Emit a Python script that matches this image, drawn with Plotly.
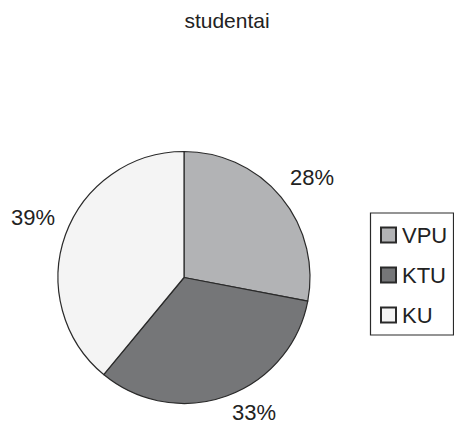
import math
import plotly.graph_objects as go

labels = ["VPU", "KTU", "KU"]
values = [28, 33, 39]
colors = ["#b2b3b5", "#757678", "#f4f4f4"]

W, H = 454, 429
FONT = "Liberation Sans, Arial, sans-serif"
TXT = "#222222"

# pie geometry in pixels (layout only)
CX, CY, R = 184, 277.5, 126


def px(x):
    return x / W


def py(y):
    return 1 - y / H


fig = go.Figure()
fig.add_trace(go.Pie(
    labels=labels, values=values, sort=False, direction="clockwise", rotation=0,
    marker=dict(colors=colors, line=dict(color="#2a2a2a", width=1.2)),
    textinfo="none", showlegend=False, hoverinfo="label+percent",
    domain=dict(x=[px(CX - R), px(CX + R)], y=[py(CY + R), py(CY - R)]),
))

# percentage labels, placed outside each slice at its mid-angle
total = sum(values)
cum = 0
annotations = []
for lab, v in zip(labels, values):
    mid = (cum + v / 2) / total * 2 * math.pi
    cum += v
    s, c = math.sin(mid), math.cos(mid)
    rx = R * 1.07
    ry = R * 1.07 if c > 0 else R * 1.02
    x = CX + rx * s
    y = CY - ry * c
    xanchor = "center" if abs(s) < 0.3 else ("left" if s > 0 else "right")
    yanchor = "middle" if abs(c) < 0.3 else ("bottom" if c > 0 else "top")
    annotations.append(dict(
        x=px(x), y=py(y), xref="paper", yref="paper", showarrow=False,
        text=f"{round(v / total * 100)}%", xanchor=xanchor, yanchor=yanchor,
        font=dict(family=FONT, size=22, color=TXT),
    ))

# legend (drawn manually to match the boxed Excel-style legend)
shapes = [dict(type="rect", xref="paper", yref="paper",
               x0=px(370.5), x1=px(453.5), y0=py(335), y1=py(213),
               line=dict(color="#2a2a2a", width=1.2), fillcolor="white", layer="below")]
row_y = [235, 275, 315]
for lab, col, yy in zip(labels, colors, row_y):
    shapes.append(dict(type="rect", xref="paper", yref="paper",
                       x0=px(381), x1=px(396), y0=py(yy + 7.5), y1=py(yy - 7.5),
                       line=dict(color="#2a2a2a", width=2), fillcolor=col))
    annotations.append(dict(
        x=px(400), y=py(yy), xref="paper", yref="paper", showarrow=False,
        text=lab, xanchor="left", yanchor="middle",
        font=dict(family=FONT, size=22, color=TXT),
    ))

fig.update_layout(
    width=W, height=H, margin=dict(l=0, r=0, t=0, b=0),
    paper_bgcolor="white", plot_bgcolor="white",
    title=dict(text="studentai", x=0.5, xanchor="center", y=py(21), yanchor="middle",
               yref="container", font=dict(family=FONT, size=21, color=TXT)),
    annotations=annotations, shapes=shapes,
    font=dict(family=FONT),
)
fig.write_html("out.html", config={"displayModeBar": False},
               post_script="document.body.style.margin='0';document.body.style.overflow='hidden';")
